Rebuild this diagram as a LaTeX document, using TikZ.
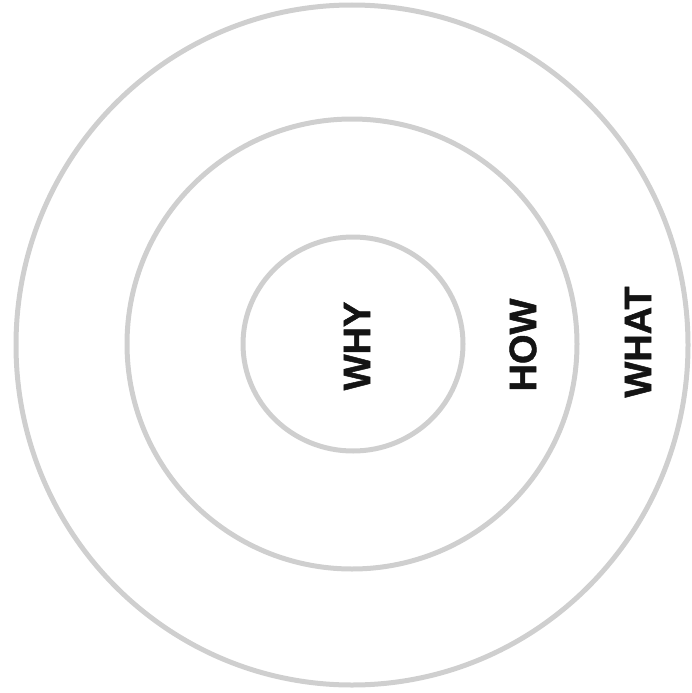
\documentclass[tikz,border=0pt]{standalone}
\usepackage{fontspec}
\setmainfont{Liberation Sans}
\newfontfamily\heavy{Liberation Sans}[BoldFeatures={FakeBold=1.3}]
\tikzset{
  ring/.style={draw=black!19, line width=5pt},
  word/.style={font=\heavy\fontsize{38}{38}\selectfont\bfseries, rotate=90, inner sep=0pt, anchor=center, text=black!92}
}
\begin{document}
\begin{tikzpicture}[x=1pt,y=-1pt]
\useasboundingbox (0,0) rectangle (691,693);
\draw[ring] (352,345) ellipse [x radius=336, y radius=340];
\draw[ring] (352,344) circle [radius=225];
\draw[ring] (353,344) ellipse [x radius=110, y radius=107];
\node[word] (why) at (357,346) {WHY};
\node[word] (how) at (523,345) {HOW};
\node[word] (what) at (638,342) {WHAT};
\end{tikzpicture}
\end{document}
